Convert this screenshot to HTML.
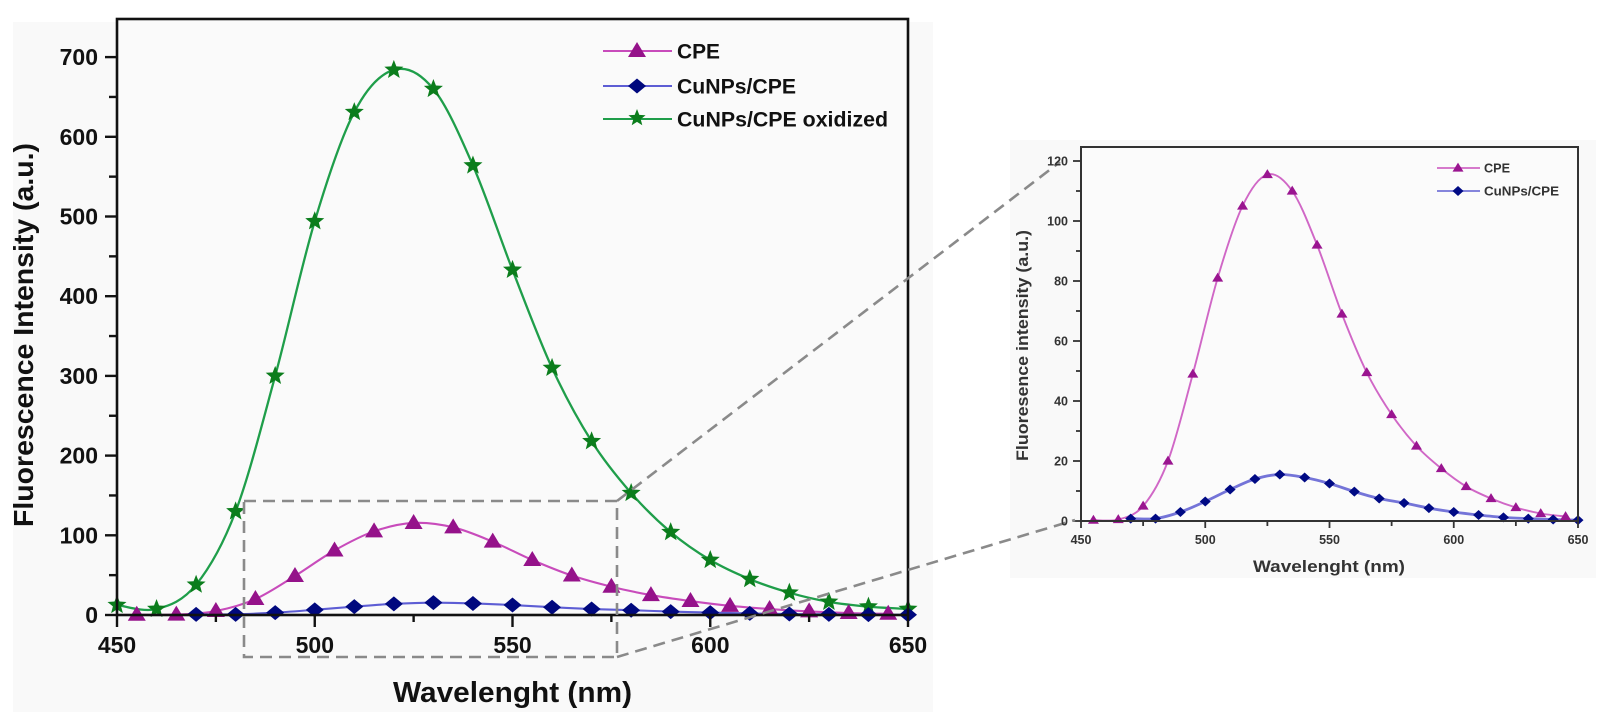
<!DOCTYPE html>
<html><head><meta charset="utf-8"><style>
html,body{margin:0;padding:0;background:#fff;}
svg{display:block;font-family:"Liberation Sans",Arial,sans-serif;}
</style></head><body>
<svg id="s" width="1601" height="712" viewBox="0 0 1601 712" xmlns="http://www.w3.org/2000/svg">
<rect x="0" y="0" width="1601" height="712" fill="#fff"/>
<rect x="13" y="22" width="920" height="690" fill="#f9f9f9"/>
<rect x="1010" y="140" width="586" height="438" fill="#f9f9f9"/>
<g id="main"></g>
<g id="inset"></g>
<!-- dashed zoom box and connectors -->
<g fill="none" stroke="#8a8a8a" stroke-width="2.6" stroke-dasharray="12 7">
<rect x="244" y="501" width="373" height="156"/>
<path d="M617,501 L1060,162"/>
<path d="M617,657 L1075,520"/>
</g>
<!-- main text -->
<g font-weight="bold" fill="#111">
<text transform="translate(33,527) rotate(-90)" font-size="28" textLength="384" lengthAdjust="spacingAndGlyphs">Fluorescence Intensity (a.u.)</text>
<text x="393" y="702" font-size="29" textLength="239" lengthAdjust="spacingAndGlyphs">Wavelenght (nm)</text>
<g font-size="23" text-anchor="middle">
<text x="117" y="653">450</text><text x="314.8" y="653">500</text><text x="512.5" y="653">550</text><text x="710.3" y="653">600</text><text x="908" y="653">650</text>
</g>
<g font-size="23" text-anchor="end">
<text x="98" y="623">0</text><text x="98" y="543.3">100</text><text x="98" y="463.6">200</text><text x="98" y="383.9">300</text><text x="98" y="304.2">400</text><text x="98" y="224.5">500</text><text x="98" y="144.8">600</text><text x="98" y="65.1">700</text>
</g>
<g font-size="21">
<text x="677" y="58.5" textLength="43" lengthAdjust="spacingAndGlyphs">CPE</text>
<text x="677" y="93.5" textLength="119" lengthAdjust="spacingAndGlyphs">CuNPs/CPE</text>
<text x="677" y="126.5" textLength="211" lengthAdjust="spacingAndGlyphs">CuNPs/CPE oxidized</text>
</g>
</g>
<!-- inset text -->
<g font-weight="bold" fill="#333">
<text transform="translate(1028,461) rotate(-90)" font-size="17" textLength="231" lengthAdjust="spacingAndGlyphs">Fluoresence intensity (a.u.)</text>
<text x="1253" y="572" font-size="17" textLength="152" lengthAdjust="spacingAndGlyphs">Wavelenght (nm)</text>
<g font-size="12.5" text-anchor="middle">
<text x="1081" y="544">450</text><text x="1205.3" y="544">500</text><text x="1329.5" y="544">550</text><text x="1453.8" y="544">600</text><text x="1578" y="544">650</text>
</g>
<g font-size="12.5" text-anchor="end">
<text x="1068" y="525.5">0</text><text x="1068" y="465.5">20</text><text x="1068" y="405.5">40</text><text x="1068" y="345.5">60</text><text x="1068" y="285.5">80</text><text x="1068" y="225.5">100</text><text x="1068" y="165.5">120</text>
</g>
<g font-size="13">
<text x="1484" y="172.5" textLength="26" lengthAdjust="spacingAndGlyphs">CPE</text>
<text x="1484" y="195.5" textLength="75" lengthAdjust="spacingAndGlyphs">CuNPs/CPE</text>
</g>
</g>
</svg>
<script>
(function(){
var NS="http://www.w3.org/2000/svg";
function el(parent,tag,attrs){var e=document.createElementNS(NS,tag);for(var k in attrs)e.setAttribute(k,attrs[k]);parent.appendChild(e);return e;}
function spline(pts){
  var d="M"+pts[0][0].toFixed(2)+","+pts[0][1].toFixed(2);
  var n=pts.length;
  for(var i=0;i<n-1;i++){
    var p0=pts[Math.max(i-1,0)],p1=pts[i],p2=pts[i+1],p3=pts[Math.min(i+2,n-1)];
    var c1x=p1[0]+(p2[0]-p0[0])/6,c1y=p1[1]+(p2[1]-p0[1])/6;
    var c2x=p2[0]-(p3[0]-p1[0])/6,c2y=p2[1]-(p3[1]-p1[1])/6;
    d+=" C"+c1x.toFixed(2)+","+c1y.toFixed(2)+" "+c2x.toFixed(2)+","+c2y.toFixed(2)+" "+p2[0].toFixed(2)+","+p2[1].toFixed(2);
  }
  return d;
}
function star(cx,cy,R,r){
  var p=[];for(var i=0;i<10;i++){var a=-Math.PI/2+i*Math.PI/5;var rr=(i%2==0)?R:r;p.push((cx+rr*Math.cos(a)).toFixed(2)+","+(cy+rr*Math.sin(a)).toFixed(2));}
  return p.join(" ");
}
function tri(cx,cy,w,h){return (cx)+","+(cy-h*0.6)+" "+(cx+w/2)+","+(cy+h*0.4)+" "+(cx-w/2)+","+(cy+h*0.4);}
function dia(cx,cy,w,h){return cx+","+(cy-h/2)+" "+(cx+w/2)+","+cy+" "+cx+","+(cy+h/2)+" "+(cx-w/2)+","+cy;}

var green=[[450,12.5],[460,7.5],[470,38],[480,130],[490,300],[500,494],[510,631],[520,684],[530,660],[540,564],[550,433],[560,310],[570,218],[580,153],[590,104],[600,69],[610,45],[620,28],[630,16.5],[640,10.5],[650,7.5]];
var cpe=[[455,0.3],[465,0.5],[475,5],[485,20],[495,49],[505,81],[515,105],[525,115.5],[535,110],[545,92],[555,69],[565,49.5],[575,35.5],[585,25],[595,17.5],[605,11.5],[615,7.5],[625,4.5],[635,2.5],[645,1.5]];
var blue=[[470,0.8],[480,0.8],[490,3],[500,6.5],[510,10.5],[520,14],[530,15.5],[540,14.5],[550,12.5],[560,9.8],[570,7.5],[580,6],[590,4.3],[600,3],[610,2],[620,1.2],[630,0.8],[640,0.5],[650,0.3]];

/* MAIN */
var g=document.getElementById("main");
function mx(v){return 117+(v-450)*3.955;}
function my(v){return 615-v*0.797;}
el(g,"rect",{x:117,y:19,width:791,height:596,fill:"#fafafa"});
function mp(a){return a.map(function(p){return [mx(p[0]),my(p[1])];});}
el(g,"path",{d:spline(mp(green)),fill:"none",stroke:"#1f9e4a","stroke-width":2.3});
el(g,"path",{d:spline(mp(cpe)),fill:"none",stroke:"#c84bbb","stroke-width":2.1});
el(g,"path",{d:spline(mp(blue)),fill:"none",stroke:"#5d5dd4","stroke-width":2.1});
green.forEach(function(p){el(g,"polygon",{points:star(mx(p[0]),my(p[1]),10,4.3),fill:"#0b7d1c"});});
cpe.forEach(function(p){el(g,"polygon",{points:tri(mx(p[0]),my(p[1]),18,15),fill:"#95128a"});});
blue.forEach(function(p){el(g,"polygon",{points:dia(mx(p[0]),my(p[1]),18,15),fill:"#00087e"});});
// frame
el(g,"rect",{x:117,y:19,width:791,height:596,fill:"none",stroke:"#111","stroke-width":2.6});
// ticks
for(var v=0;v<=700;v+=50){var y=my(v);el(g,"line",{x1:(v%100==0)?105:109,y1:y,x2:117,y2:y,stroke:"#111","stroke-width":2.4});}
for(var w=450;w<=650;w+=25){var x=mx(w);el(g,"line",{x1:x,y1:615,x2:x,y2:(w%50==0)?627:622,stroke:"#111","stroke-width":2.4});}
// legend
el(g,"line",{x1:603,y1:51,x2:672,y2:51,stroke:"#c84bbb","stroke-width":2});
el(g,"polygon",{points:tri(637,51,18,15),fill:"#95128a"});
el(g,"line",{x1:603,y1:86,x2:672,y2:86,stroke:"#5d5dd4","stroke-width":2});
el(g,"polygon",{points:dia(637,86,18,15),fill:"#00087e"});
el(g,"line",{x1:603,y1:119,x2:672,y2:119,stroke:"#1f9e4a","stroke-width":2});
el(g,"polygon",{points:star(637,118,9,3.9),fill:"#0b7d1c"});

/* INSET */
var h=document.getElementById("inset");
function ix(v){return 1081+(v-450)*2.485;}
function iy(v){return 521-v*3;}
function ip(a){return a.map(function(p){return [ix(p[0]),iy(p[1])];});}
el(h,"rect",{x:1081,y:147,width:497,height:374,fill:"#fbfbfb"});
el(h,"path",{d:spline(ip(cpe)),fill:"none",stroke:"#d067c6","stroke-width":1.9});
el(h,"path",{d:spline(ip(blue)),fill:"none",stroke:"#7474d8","stroke-width":2.8});
cpe.forEach(function(p){el(h,"polygon",{points:tri(ix(p[0]),iy(p[1]),11,9),fill:"#9a1590"});});
blue.forEach(function(p){el(h,"polygon",{points:dia(ix(p[0]),iy(p[1]),11,10),fill:"#000a84"});});
el(h,"rect",{x:1081,y:147,width:497,height:374,fill:"none",stroke:"#333","stroke-width":2});
for(var v2=0;v2<=120;v2+=10){var y2=iy(v2);el(h,"line",{x1:(v2%20==0)?1073:1076,y1:y2,x2:1081,y2:y2,stroke:"#333","stroke-width":1.8});}
for(var w2=450;w2<=650;w2+=25){var x2=ix(w2);el(h,"line",{x1:x2,y1:521,x2:x2,y2:(w2%50==0)?528:526,stroke:"#333","stroke-width":1.8});}
el(h,"line",{x1:1437,y1:168,x2:1480,y2:168,stroke:"#d067c6","stroke-width":1.8});
el(h,"polygon",{points:tri(1458,168,11,9),fill:"#9a1590"});
el(h,"line",{x1:1437,y1:191,x2:1480,y2:191,stroke:"#7474d8","stroke-width":1.8});
el(h,"polygon",{points:dia(1458,191,11,10),fill:"#000a84"});
})();
</script>
</body></html>
